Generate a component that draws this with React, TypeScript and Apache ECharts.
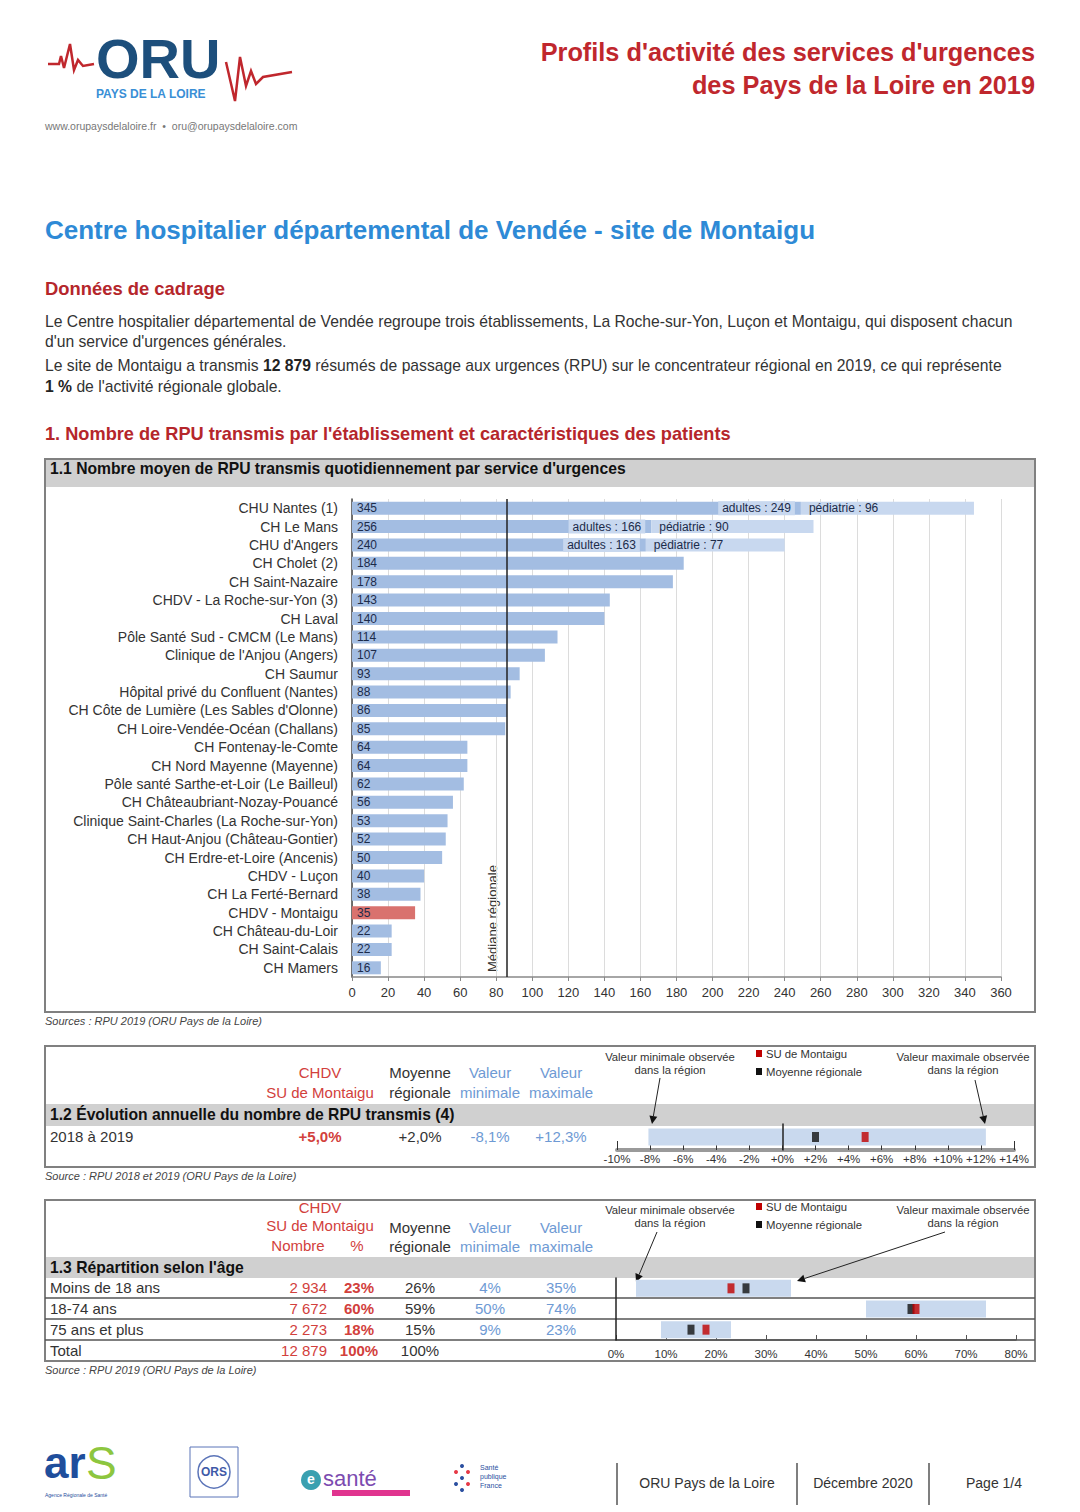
import React, { useEffect, useRef } from "react";
import * as echarts from "echarts";

// ---------- DATA ----------
const establishments = [
  "CHU Nantes (1)", "CH Le Mans", "CHU d'Angers", "CH Cholet (2)", "CH Saint-Nazaire",
  "CHDV - La Roche-sur-Yon (3)", "CH Laval", "Pôle Santé Sud - CMCM (Le Mans)",
  "Clinique de l'Anjou (Angers)", "CH Saumur", "Hôpital privé du Confluent (Nantes)",
  "CH Côte de Lumière (Les Sables d'Olonne)", "CH Loire-Vendée-Océan (Challans)",
  "CH Fontenay-le-Comte", "CH Nord Mayenne (Mayenne)", "Pôle santé Sarthe-et-Loir (Le Bailleul)",
  "CH Châteaubriant-Nozay-Pouancé", "Clinique Saint-Charles (La Roche-sur-Yon)",
  "CH Haut-Anjou (Château-Gontier)", "CH Erdre-et-Loire (Ancenis)", "CHDV - Luçon",
  "CH La Ferté-Bernard", "CHDV - Montaigu", "CH Château-du-Loir", "CH Saint-Calais", "CH Mamers",
];
const dailyRpu = [345, 256, 240, 184, 178, 143, 140, 114, 107, 93, 88, 86, 85, 64, 64, 62, 56, 53, 52, 50, 40, 38, 35, 22, 22, 16];
const adultRpu = [249, 166, 163];
const pediatricRpu = [96, 90, 77];
const highlighted = "CHDV - Montaigu";
const regionalMedian = 86;

const evoPeriod = ["2018 à 2019"];
const evoSite = [5.0];
const evoMean = [2.0];
const evoMin = [-8.1];
const evoMax = [12.3];

const ageGroups = ["Moins de 18 ans", "18-74 ans", "75 ans et plus"];
const ageCounts = [2934, 7672, 2273];
const agePct = [23, 60, 18];
const ageMean = [26, 59, 15];
const ageMin = [4, 50, 9];
const ageMax = [35, 74, 23];

// ---------- STYLE ----------
const FF = '"Liberation Sans", Arial, sans-serif';
const RED_TITLE = "#c0272d";
const RED_TXT = "#d2403c";
const BLUE_TXT = "#6e9ad4";
const BAR_BLUE = "#a3bde2";
const BAR_LIGHT = "#c8d8ef";
const BAR_RED = "#d9726e";
const RANGE = "#c9d9ee";
const BOX = "#808080";
const BAND = "#d0d0d0";

const fmtThousands = (n: number) => String(n).replace(/\B(?=(\d{3})+(?!\d))/g, " ");
const fmtEvo = (v: number) => (v >= 0 ? "+" : "") + v.toFixed(1).replace(".", ",") + "%";

const T = (text: string, x: number, y: number, o: any = {}, el: any = {}) => ({
  type: "text", x, y, silent: true, ...el,
  style: { text, fontSize: 14, fontFamily: FF, fill: "#333", align: "left", verticalAlign: "middle", ...o },
});
const R = (x: number, y: number, w: number, h: number, style: any) => ({
  type: "rect", silent: true, shape: { x, y, width: w, height: h }, style,
});
const L = (x1: number, y1: number, x2: number, y2: number, stroke = "#555", lineWidth = 1.5) => ({
  type: "line", silent: true, shape: { x1, y1, x2, y2 }, style: { stroke, lineWidth },
});
const arrow = (x1: number, y1: number, x2: number, y2: number) => {
  const ang = Math.atan2(y2 - y1, x2 - x1);
  const len = 8, wid = 4;
  const bx = x2 - len * Math.cos(ang), by = y2 - len * Math.sin(ang);
  const px = -Math.sin(ang) * wid, py = Math.cos(ang) * wid;
  return [
    L(x1, y1, bx, by, "#222", 1),
    { type: "polygon", silent: true, shape: { points: [[x2, y2], [bx + px, by + py], [bx - px, by - py]] }, style: { fill: "#111" } },
  ];
};
const ANN = 11.3;
const annotations = (top: number, minArrow: number[], maxArrow: number[]) => [
  T("Valeur minimale observée\ndans la région", 670, top, { fontSize: ANN, align: "center", verticalAlign: "top", lineHeight: 13 }),
  T("Valeur maximale observée\ndans la région", 963, top, { fontSize: ANN, align: "center", verticalAlign: "top", lineHeight: 13 }),
  ...arrow(minArrow[0], minArrow[1], minArrow[2], minArrow[3]),
  ...arrow(maxArrow[0], maxArrow[1], maxArrow[2], maxArrow[3]),
  R(756, top + 0, 6, 7, { fill: "#c00000" }),
  T("SU de Montaigu", 766, top + 4, { fontSize: ANN }),
  R(756, top + 18, 6, 7, { fill: "#111" }),
  T("Moyenne régionale", 766, top + 22, { fontSize: ANN }),
];

const rangeRender = (h: number, dy: number) => (params: any, api: any) => {
  const a = api.coord([api.value(0), api.value(2)]);
  const b = api.coord([api.value(1), api.value(2)]);
  return { type: "rect", shape: { x: a[0], y: a[1] - h / 2 + dy, width: b[0] - a[0], height: h }, style: { fill: RANGE } };
};

function buildOption(): any {
  const g: any[] = [];
  const P = 15.7;
  const HB = 15.7;
  // Header / logo
  g.push(T("ORU", 96, 58, { fontSize: 56, fontWeight: "bold", fill: "#1d4f7c" }));
  g.push({ type: "polyline", silent: true, shape: { points: [[48, 64], [59, 64], [61, 56], [64, 68], [70, 44], [74, 70], [78, 60], [83, 66], [94, 64]] }, style: { stroke: RED_TITLE, lineWidth: 2.5, fill: null } });
  g.push({ type: "polyline", silent: true, shape: { points: [[226, 62], [235, 101], [240, 57], [246, 86], [251, 71], [256, 84], [263, 77], [292, 72]] }, style: { stroke: RED_TITLE, lineWidth: 2.5, fill: null } });
  g.push(T("PAYS DE LA LOIRE", 96, 94, { fontSize: 12, fontWeight: "bold", fill: "#3a8fd6" }));
  g.push(T("www.orupaysdelaloire.fr  •  oru@orupaysdelaloire.com", 45, 126, { fontSize: 10.5, fill: "#777" }));
  g.push(T("Profils d'activité des services d'urgences", 1035, 52, { fontSize: 25.3, fontWeight: "bold", fill: RED_TITLE, align: "right" }));
  g.push(T("des Pays de la Loire en 2019", 1035, 85, { fontSize: 25.3, fontWeight: "bold", fill: RED_TITLE, align: "right" }));

  g.push(T("Centre hospitalier départemental de Vendée - site de Montaigu", 45, 230, { fontSize: 26, fontWeight: "bold", fill: "#2e8ad6" }));
  g.push(T("Données de cadrage", 45, 288, { fontSize: 18.4, fontWeight: "bold", fill: "#b5262b" }));
  const rich = { b: { fontWeight: "bold", fontSize: P, fontFamily: FF, fill: "#222" } };
  g.push(T("Le Centre hospitalier départemental de Vendée regroupe trois établissements, La Roche-sur-Yon, Luçon et Montaigu, qui disposent chacun", 45, 321, { fontSize: P }));
  g.push(T("d'un service d'urgences générales.", 45, 341, { fontSize: P }));
  g.push(T("Le site de Montaigu a transmis {b|12 879} résumés de passage aux urgences (RPU) sur le concentrateur régional en 2019, ce qui représente", 45, 365, { fontSize: P, rich }));
  g.push(T("{b|1 %} de l'activité régionale globale.", 45, 386, { fontSize: P, rich }));
  g.push(T("1. Nombre de RPU transmis par l'établissement et caractéristiques des patients", 45, 434, { fontSize: 18.2, fontWeight: "bold", fill: "#b5262b" }));

  // Box 1.1
  g.push(R(46, 460, 988, 27, { fill: BAND }));
  g.push(R(45, 459, 990, 553, { fill: null, stroke: BOX, lineWidth: 2 }));
  g.push(T("1.1 Nombre moyen de RPU transmis quotidiennement par service d'urgences", 50, 468, { fontSize: HB, fontWeight: "bold", fill: "#111" }));
  g.push(T("Médiane régionale", 492, 972, { fontSize: 13, fill: "#333" }, { rotation: Math.PI / 2 }));
  g.push(T("Sources : RPU 2019 (ORU Pays de la Loire)", 45, 1021, { fontSize: 11, fontStyle: "italic", fill: "#444" }));

  // Box 1.2
  g.push(R(46, 1104, 988, 22, { fill: BAND }));
  g.push(R(45, 1046, 990, 121, { fill: null, stroke: BOX, lineWidth: 2 }));
  g.push(T("1.2 Évolution annuelle du nombre de RPU transmis (4)", 50, 1114, { fontSize: HB, fontWeight: "bold", fill: "#111" }));
  const hdr = (y1: number, y2: number) => [
    T("Moyenne", 420, y1, { fontSize: 15, align: "center" }),
    T("régionale", 420, y2, { fontSize: 15, align: "center" }),
    T("Valeur", 490, y1, { fontSize: 15, align: "center", fill: BLUE_TXT }),
    T("minimale", 490, y2, { fontSize: 15, align: "center", fill: BLUE_TXT }),
    T("Valeur", 561, y1, { fontSize: 15, align: "center", fill: BLUE_TXT }),
    T("maximale", 561, y2, { fontSize: 15, align: "center", fill: BLUE_TXT }),
  ];
  g.push(T("CHDV", 320, 1072, { fontSize: 15, align: "center", fill: RED_TXT }));
  g.push(T("SU de Montaigu", 320, 1092, { fontSize: 15, align: "center", fill: RED_TXT }));
  g.push(...hdr(1072, 1092));
  evoPeriod.forEach((p, i) => {
    const y = 1136 + i * 21;
    g.push(T(p, 50, y, { fontSize: 15 }));
    g.push(T(fmtEvo(evoSite[i]), 320, y, { fontSize: 15, align: "center", fill: RED_TXT, fontWeight: "bold" }));
    g.push(T(fmtEvo(evoMean[i]), 420, y, { fontSize: 15, align: "center" }));
    g.push(T(fmtEvo(evoMin[i]), 490, y, { fontSize: 15, align: "center", fill: BLUE_TXT }));
    g.push(T(fmtEvo(evoMax[i]), 561, y, { fontSize: 15, align: "center", fill: BLUE_TXT }));
  });
  g.push(...annotations(1050, [660, 1078, 652, 1124], [975, 1080, 985, 1124]));
  g.push(T("Source : RPU 2018 et 2019 (ORU Pays de la Loire)", 45, 1176, { fontSize: 11, fontStyle: "italic", fill: "#444" }));

  // Box 1.3
  g.push(R(46, 1257, 988, 21, { fill: BAND }));
  g.push(R(45, 1200, 990, 161, { fill: null, stroke: BOX, lineWidth: 2 }));
  g.push(T("1.3 Répartition selon l'âge", 50, 1267, { fontSize: HB, fontWeight: "bold", fill: "#111" }));
  g.push(T("CHDV", 320, 1207, { fontSize: 15, align: "center", fill: RED_TXT }));
  g.push(T("SU de Montaigu", 320, 1225, { fontSize: 15, align: "center", fill: RED_TXT }));
  g.push(T("Nombre", 298, 1245, { fontSize: 15, align: "center", fill: RED_TXT }));
  g.push(T("%", 357, 1245, { fontSize: 15, align: "center", fill: RED_TXT }));
  g.push(...hdr(1227, 1246));
  ageGroups.forEach((a, i) => {
    const y = 1287 + i * 21;
    g.push(T(a, 50, y, { fontSize: 15 }));
    g.push(T(fmtThousands(ageCounts[i]), 327, y, { fontSize: 15, align: "right", fill: RED_TXT }));
    g.push(T(agePct[i] + "%", 359, y, { fontSize: 15, align: "center", fill: RED_TXT, fontWeight: "bold" }));
    g.push(T(ageMean[i] + "%", 420, y, { fontSize: 15, align: "center" }));
    g.push(T(ageMin[i] + "%", 490, y, { fontSize: 15, align: "center", fill: BLUE_TXT }));
    g.push(T(ageMax[i] + "%", 561, y, { fontSize: 15, align: "center", fill: BLUE_TXT }));
    g.push(L(45, y + 11, 1035, y + 11, "#555", 1.5));
  });
  const totalCount = ageCounts.reduce((s, v) => s + v, 0);
  g.push(T("Total", 50, 1350, { fontSize: 15 }));
  g.push(T(fmtThousands(totalCount), 327, 1350, { fontSize: 15, align: "right", fill: RED_TXT }));
  g.push(T("100%", 359, 1350, { fontSize: 15, align: "center", fill: RED_TXT, fontWeight: "bold" }));
  g.push(T("100%", 420, 1350, { fontSize: 15, align: "center" }));
  g.push(...annotations(1203, [657, 1232, 636, 1282], [945, 1232, 797, 1281]));
  g.push(T("Source : RPU 2019 (ORU Pays de la Loire)", 45, 1370, { fontSize: 11, fontStyle: "italic", fill: "#444" }));

  // Footer
  g.push(T("ar", 44, 1462, { fontSize: 44, fontWeight: "bold", fill: "#1f4e9c" }));
  g.push(T("S", 86, 1463, { fontSize: 46, fill: "#8dc63f" }));
  g.push(T("Agence Régionale de Santé", 45, 1495, { fontSize: 5, fill: "#1f4e9c" }));
  g.push(R(190, 1447, 48, 50, { fill: null, stroke: "#5b74b8", lineWidth: 1 }));
  g.push({ type: "circle", silent: true, shape: { cx: 214, cy: 1472, r: 16 }, style: { fill: null, stroke: "#5b74b8", lineWidth: 1.5 } });
  g.push(T("ORS", 214, 1472, { fontSize: 12, fontWeight: "bold", fill: "#3f5aa8", align: "center" }));
  g.push({ type: "circle", silent: true, shape: { cx: 311, cy: 1480, r: 10 }, style: { fill: "#3aa0b0" } });
  g.push(T("e", 311, 1479, { fontSize: 14, fontWeight: "bold", fill: "#fff", align: "center" }));
  g.push(T("santé", 323, 1478, { fontSize: 22, fill: "#7c4bb0" }));
  g.push(R(332, 1490, 78, 6, { fill: "#e0348f" }));
  [[462, 1466], [468, 1472], [462, 1478], [468, 1484], [462, 1490], [456, 1472], [456, 1484]].forEach(([cx, cy], k) =>
    g.push({ type: "circle", silent: true, shape: { cx, cy, r: 2 }, style: { fill: k % 2 ? "#e63946" : "#2b4fa0" } }));
  g.push(T("Santé\npublique\nFrance", 480, 1476, { fontSize: 7, fill: "#2b4fa0", lineHeight: 9 }));
  g.push(L(617, 1463, 617, 1505, "#555", 1.5));
  g.push(L(797, 1463, 797, 1505, "#555", 1.5));
  g.push(L(929, 1463, 929, 1505, "#555", 1.5));
  g.push(T("ORU Pays de la Loire", 707, 1483, { fontSize: 14, align: "center" }));
  g.push(T("Décembre 2020", 863, 1483, { fontSize: 14, align: "center" }));
  g.push(T("Page 1/4", 994, 1483, { fontSize: 14, align: "center" }));

  const barLabel = { fontSize: 12, color: "#1c2b4a", fontFamily: FF };

  return {
    animation: false,
    backgroundColor: "#ffffff",
    textStyle: { fontFamily: FF },
    graphic: { elements: g },
    grid: [
      { left: 352, top: 499, width: 649, height: 478 },
      { left: 617, top: 1124, width: 397, height: 26 },
      { left: 616, top: 1278, width: 400, height: 62 },
    ],
    xAxis: [
      {
        gridIndex: 0, type: "value", min: 0, max: 360, interval: 20,
        axisLine: { show: true, lineStyle: { color: "#888", width: 1.5 } },
        axisTick: { show: true, length: 4, lineStyle: { color: "#888" } },
        splitLine: { show: true, lineStyle: { color: "#dcdcdc", width: 1 } },
        axisLabel: { fontSize: 13, color: "#333", margin: 9, fontFamily: FF },
      },
      {
        gridIndex: 1, type: "value", min: -10, max: 14, interval: 2,
        axisLine: { show: true, onZero: false, lineStyle: { color: "#9a9a9a", width: 4 } },
        axisTick: { show: true, inside: true, length: 9, lineStyle: { color: "#333", width: 1 } },
        splitLine: { show: false },
        axisLabel: { fontSize: 11.5, color: "#333", margin: 3, fontFamily: FF, formatter: (v: number) => (v >= 0 ? "+" : "") + v + "%" },
      },
      {
        gridIndex: 2, type: "value", min: 0, max: 80, interval: 10,
        axisLine: { show: true, onZero: false, lineStyle: { color: "#555", width: 1.5 } },
        axisTick: { show: true, inside: true, length: 5, lineStyle: { color: "#555" } },
        splitLine: { show: false },
        axisLabel: { fontSize: 11.5, color: "#333", margin: 8, fontFamily: FF, formatter: "{value}%" },
      },
    ],
    yAxis: [
      {
        gridIndex: 0, type: "category", data: establishments, inverse: true,
        axisLine: { show: true, lineStyle: { color: "#444", width: 1.5 } },
        axisTick: { show: false },
        axisLabel: { interval: 0, fontSize: 14, color: "#333", margin: 14, fontFamily: FF },
      },
      {
        gridIndex: 1, type: "category", data: evoPeriod, z: 6,
        axisLine: { show: true, onZero: true, lineStyle: { color: "#222", width: 1.5 } },
        axisTick: { show: false }, axisLabel: { show: false }, splitLine: { show: false },
      },
      {
        gridIndex: 2, type: "category", data: ageGroups, inverse: true, z: 6,
        axisLine: { show: true, lineStyle: { color: "#222", width: 1.5 } },
        axisTick: { show: false }, axisLabel: { show: false }, splitLine: { show: false },
      },
    ],
    series: [
      {
        type: "bar", name: "adultes", xAxisIndex: 0, yAxisIndex: 0, stack: "rpu", barWidth: 13, barGap: "-100%",
        itemStyle: { color: BAR_BLUE },
        label: { show: false, ...barLabel },
        data: dailyRpu.map((v, i) => {
          if (i < adultRpu.length) {
            return {
              value: adultRpu[i],
              label: { show: true, position: "insideRight", distance: 6, formatter: `adultes : ${adultRpu[i]}`, backgroundColor: BAR_LIGHT, padding: [1, 4], ...barLabel },
            };
          }
          return { value: v, itemStyle: { color: establishments[i] === highlighted ? BAR_RED : BAR_BLUE } };
        }),
        markLine: {
          silent: true, symbol: ["none", "none"], label: { show: false },
          lineStyle: { color: "#222", width: 1.5, type: "solid" },
          data: [{ xAxis: regionalMedian }],
        },
        z: 3,
      },
      {
        type: "bar", name: "pédiatrie", xAxisIndex: 0, yAxisIndex: 0, stack: "rpu", barWidth: 13, barGap: "-100%",
        itemStyle: { color: BAR_LIGHT },
        data: dailyRpu.map((_, i) => (i < pediatricRpu.length ? pediatricRpu[i] : "-")),
        label: { show: true, position: "insideLeft", distance: 8, formatter: (p: any) => `pédiatrie : ${p.value}`, ...barLabel },
        z: 3,
      },
      {
        type: "bar", name: "total", xAxisIndex: 0, yAxisIndex: 0, stack: "tot", barWidth: 13, barGap: "-100%",
        itemStyle: { color: "rgba(0,0,0,0)" },
        data: dailyRpu,
        label: { show: true, position: "insideLeft", distance: 5, ...barLabel },
        z: 4,
      },
      {
        type: "custom", name: "evoRange", xAxisIndex: 1, yAxisIndex: 1, renderItem: rangeRender(17, 0),
        encode: { x: [0, 1], y: 2 }, data: evoPeriod.map((_, i) => [evoMin[i], evoMax[i], i]), z: 1,
      },
      {
        type: "scatter", name: "evoMean", xAxisIndex: 1, yAxisIndex: 1, symbol: "rect", symbolSize: [7, 10],
        itemStyle: { color: "#111" }, data: evoMean.map((v, i) => [v, i]), z: 5,
      },
      {
        type: "scatter", name: "evoSite", xAxisIndex: 1, yAxisIndex: 1, symbol: "rect", symbolSize: [7, 10],
        itemStyle: { color: "#c00000" }, data: evoSite.map((v, i) => [v, i]), z: 5,
      },
      {
        type: "custom", name: "ageRange", xAxisIndex: 2, yAxisIndex: 2, renderItem: rangeRender(17, 0),
        encode: { x: [0, 1], y: 2 }, data: ageGroups.map((_, i) => [ageMin[i], ageMax[i], i]), z: 1,
      },
      {
        type: "scatter", name: "ageMean", xAxisIndex: 2, yAxisIndex: 2, symbol: "rect", symbolSize: [7, 10],
        itemStyle: { color: "#111" }, data: ageMean.map((v, i) => [v, i]), z: 5,
      },
      {
        type: "scatter", name: "ageSite", xAxisIndex: 2, yAxisIndex: 2, symbol: "rect", symbolSize: [7, 10],
        itemStyle: { color: "#c00000" }, data: agePct.map((v, i) => [v, i]), z: 5,
      },
    ],
  };
}

export default function App() {
  const ref = useRef<HTMLDivElement>(null);
  useEffect(() => {
    if (!ref.current) return;
    const chart = echarts.init(ref.current, null, { renderer: "svg" });
    chart.setOption(buildOption());
    return () => chart.dispose();
  }, []);
  return (
    <div
      ref={ref}
      style={{ position: "absolute", left: 0, top: 0, width: 1080, height: 1512, background: "#fff" }}
    />
  );
}
